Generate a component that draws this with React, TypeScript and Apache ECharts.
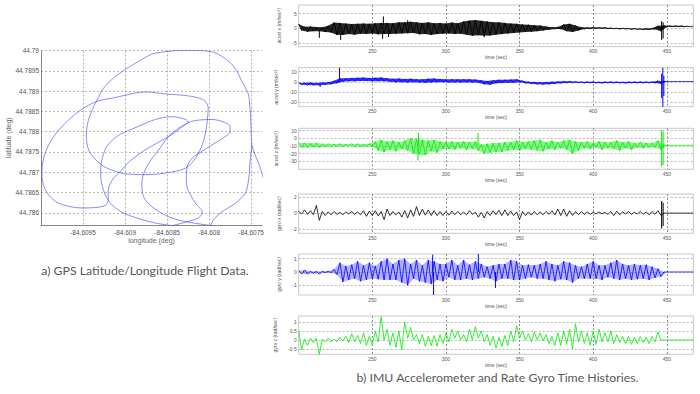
import React, { useEffect, useRef } from 'react';
import * as echarts from 'echarts';

// ---------- GPS track (lon, lat) ----------
const gpsLonTicks = [-84.6095, -84.609, -84.6085, -84.608, -84.6075];
const gpsLatTicks = [44.786, 44.7865, 44.787, 44.7875, 44.788, 44.7885, 44.789, 44.7895, 44.79];

const gpsSegA: number[][] = [
  [-84.60734, 44.78676], [-84.60737, 44.78697], [-84.60741, 44.78722], [-84.60746, 44.78747],
  [-84.60749, 44.78767], [-84.6075, 44.78809], [-84.60751, 44.7885], [-84.60753, 44.78891],
  [-84.60757, 44.78909], [-84.60762, 44.78928], [-84.60765, 44.78942], [-84.60772, 44.78964],
  [-84.60781, 44.7898], [-84.6079, 44.78992], [-84.608, 44.78998], [-84.60816, 44.79],
  [-84.60836, 44.79], [-84.60852, 44.78997], [-84.60868, 44.78991], [-84.60884, 44.78973],
  [-84.609, 44.78953], [-84.60916, 44.78928], [-84.60927, 44.78903], [-84.60933, 44.78879],
  [-84.60939, 44.78854], [-84.60944, 44.78825], [-84.60946, 44.78792], [-84.60944, 44.78759],
  [-84.60937, 44.78735], [-84.60925, 44.78714], [-84.60908, 44.787], [-84.60899, 44.78696],
  [-84.60875, 44.78694], [-84.60852, 44.78698], [-84.60828, 44.7871], [-84.60816, 44.78735],
  [-84.60808, 44.78768], [-84.60804, 44.788], [-84.60802, 44.78829], [-84.60801, 44.78858],
  [-84.60805, 44.78876], [-84.60814, 44.78884], [-84.60828, 44.78889], [-84.60852, 44.78893],
  [-84.60875, 44.78898], [-84.60888, 44.78895], [-84.60912, 44.78884], [-84.60933, 44.78875],
  [-84.60951, 44.78856], [-84.60967, 44.78829], [-84.60981, 44.78799], [-84.60991, 44.78767],
  [-84.60997, 44.78734], [-84.60999, 44.78697], [-84.60997, 44.78668], [-84.60991, 44.78644],
  [-84.60981, 44.78626], [-84.60967, 44.78616], [-84.60951, 44.78612], [-84.60935, 44.78613],
  [-84.60923, 44.78619], [-84.6092, 44.78631], [-84.6092, 44.78652], [-84.60918, 44.7867],
  [-84.60913, 44.78687], [-84.60906, 44.78701], [-84.60897, 44.78722], [-84.60882, 44.78747],
  [-84.60862, 44.78772], [-84.60842, 44.78796], [-84.60824, 44.78823], [-84.6081, 44.78829],
  [-84.60796, 44.7883], [-84.60783, 44.78824], [-84.60775, 44.78813], [-84.60775, 44.788],
  [-84.60782, 44.78786], [-84.60793, 44.78772], [-84.60808, 44.78752], [-84.6082, 44.78735],
  [-84.60826, 44.78714], [-84.60827, 44.78681], [-84.60826, 44.78661], [-84.60822, 44.78644],
  [-84.60816, 44.78623], [-84.60812, 44.78614], [-84.60808, 44.78602], [-84.6081, 44.78592],
  [-84.60814, 44.78586], [-84.60826, 44.78578], [-84.60846, 44.78567], [-84.6087, 44.78552],
];
const gpsSegB: number[][] = [
  [-84.60824, 44.78823], [-84.60828, 44.7883], [-84.60844, 44.78837], [-84.60864, 44.7883],
  [-84.60883, 44.78814], [-84.60899, 44.788], [-84.60908, 44.78791], [-84.60917, 44.78775],
  [-84.60923, 44.78759], [-84.60928, 44.78726], [-84.60929, 44.78693], [-84.60925, 44.78652],
  [-84.60917, 44.78623], [-84.60904, 44.78602], [-84.60884, 44.78586], [-84.60862, 44.78574],
  [-84.60836, 44.78566], [-84.6081, 44.78557],
];
const gpsSegC: number[][] = [
  [-84.60824, 44.78823], [-84.60836, 44.78809], [-84.60848, 44.78789], [-84.6086, 44.78755],
  [-84.6087, 44.78728], [-84.60877, 44.78701], [-84.6088, 44.78673], [-84.60878, 44.7864],
  [-84.60868, 44.78615], [-84.60852, 44.78594], [-84.60836, 44.78582], [-84.60816, 44.78574],
  [-84.60796, 44.78568], [-84.60781, 44.7856],
];
const gpsSegD: number[][] = [
  [-84.60749, 44.78767], [-84.60751, 44.7873], [-84.60753, 44.78681], [-84.60757, 44.78648],
  [-84.60769, 44.78623], [-84.60785, 44.78602], [-84.60795, 44.78582], [-84.60798, 44.7857],
  [-84.60803, 44.78557],
];

// ---------- IMU time histories: per-bin upper / lower envelope (4 s bins from t = 200 s) ----------
const binStart = 200;
const binWidth = 4;
const timeTicks = [250, 300, 350, 400, 450];

const accelXHi = [1.4, 0.5, 0.6, 0.4, 0.3, 0.8, 1.9, 1.8, 1.6, 1.4, 1.5, 1.6, 1.5, 1.7, 1.8, 1.8, 1.7, 2.0, 2.0, 2.2, 2.0, 1.8, 2.0, 1.7, 1.8, 1.6, 1.9, 1.7, 2.3, 2.6, 2.8, 2.5, 2.3, 2.0, 2.0, 1.8, 1.6, 1.5, 1.3, 1.2, 1.0, 0.9, 0.6, 0.3, 0.4, 1.3, 1.5, 0.9, 0.3, 0.2, 0.3, 0.2, 0.2, 0.1, 0.0, 0.0, -0.1, -0.1, -0.2, -0.1, 0.0, 0.8, 0.9, 0.8, 0.8, 0.8, 0.7];
const accelXLo = [-0.8, -1.2, -1.0, -1.0, -1.3, -1.5, -2.3, -2.3, -2.0, -2.2, -1.9, -2.0, -1.8, -2.1, -2.0, -2.0, -1.9, -1.8, -1.7, -1.6, -2.1, -2.0, -2.3, -2.0, -1.9, -1.8, -2.0, -1.9, -2.2, -2.6, -2.4, -2.6, -2.5, -2.2, -2.0, -1.8, -1.6, -1.5, -1.3, -1.2, -1.0, -0.8, -0.5, -0.3, -0.3, -1.0, -1.3, -0.8, -0.3, -0.2, -0.1, -0.1, -0.2, -0.2, -0.3, -0.3, -0.4, -0.4, -0.5, -0.5, -0.4, -1.0, 0.4, 0.5, 0.5, 0.5, 0.5];
const accelXSpikes = [[214, -0.5, -3.3], [228.5, -1.0, -4.0], [257.5, 1.0, 4.0], [257, -1.0, -3.6], [261, -1.0, -3.0], [274, 1.0, 2.7], [326, -1.0, -3.1], [446.5, 2.4, -4.0], [447.5, 2.0, -3.5]];

const accelYHi = [-1.0, -1.0, -0.8, -1.2, -0.8, -0.5, 1.0, 3.5, 3.5, 3.8, 4.0, 4.2, 3.8, 4.0, 4.2, 3.5, 3.0, 3.2, 2.8, 3.0, 2.6, 2.5, 3.0, 3.2, 2.8, 2.5, 2.6, 2.4, 2.5, 2.6, 2.2, 1.5, 0.8, 1.5, 2.0, 2.0, 2.2, 2.5, 1.0, 0.0, -0.3, -0.5, -0.3, 0.0, 0.3, 0.5, 0.5, 0.2, 0.0, 0.1, 0.0, -0.1, 0.0, 0.1, 0.0, -0.1, 0.0, 0.0, 0.1, 0.0, 0.0, 1.0, 0.5, 0.3, 0.3, 0.3, 0.3];
const accelYLo = [-3.0, -3.3, -3.5, -3.5, -3.0, -2.5, -1.5, 0.0, 0.5, 0.5, 0.8, 0.8, 0.5, 0.6, 0.5, 0.0, -0.5, -0.5, -0.8, -0.5, -0.8, -1.0, -0.6, -0.5, -0.4, -0.8, -0.8, -0.8, -0.6, -0.8, -1.0, -2.5, -3.0, -1.5, -1.2, -1.0, -1.0, -0.5, -1.5, -2.0, -2.5, -2.8, -2.5, -2.0, -1.5, -1.2, -1.0, -1.0, -1.3, -1.2, -1.3, -1.4, -1.2, -1.3, -1.3, -1.4, -1.2, -1.3, -1.3, -1.2, -1.3, -2.0, 0.0, 0.3, 0.3, 0.3, 0.3];
const accelYSpikes = [[214.6, -3.0, -5.0], [227.7, 0.0, 14.5], [446.5, 8.0, -16.0], [447.3, 14.5, -25.0], [448, 6.0, -14.0]];

const accelZHi = [-6, -6, -6.5, -6, -7, -7, -7.5, -7, -7.5, -7, -7, -7.5, -7, -4, -2, -4, -3, -5, -3, 0, -1, -2, -3, -2, -4, -5, -4, -5, -4, -5, -4, -8, -7, -6, -6, -5, -5, -3, -5, -4, -3, -2, -5, -3, -5, -3, -2, -4, -5, -4, -6, -4, -5, -5, -3, -5, -4, -6, -5, -6, -6, -3, -8.5, -9, -9, -9, -9];
const accelZLo = [-12, -12, -11.5, -12, -11, -11, -10.5, -11, -10.5, -11, -11, -10.5, -11, -16, -18, -15, -17, -14, -16, -20, -21, -22, -17, -19, -14, -14, -15, -13, -15, -14, -16, -20, -19, -18, -18, -16, -15, -16, -14, -15, -16, -17, -14, -15, -13, -15, -20, -16, -13, -14, -12, -15, -13, -14, -16, -13, -15, -12, -13, -12, -12, -15, -9.5, -9.2, -9.2, -9.2, -9.2];
const accelZSpikes = [[281.4, -9, 7], [281, -9, -29], [321.8, -9, 7], [446.5, 11, -37], [447.5, 9, -35]];

const gyroXHi = [0.2, 0.4, 0.3, 0.95, 0.2, 0.15, 0.2, 0.1, 0.15, 0.2, 0.15, 0.3, 0.25, 0.3, 0.2, 0.5, 0.2, 0.15, 0.3, 0.4, 0.8, 0.5, 0.4, 0.3, 0.2, 0.2, 0.25, 0.2, 0.15, 0.3, 0.1, 0.1, 0.2, 0.3, 0.35, 0.4, 0.25, 0.15, 0.2, 0.15, 0.2, 0.15, 0.2, 0.3, 0.5, 0.5, 0.3, 0.2, 0.2, 0.15, 0.1, 0.15, 0.1, 0.2, 0.25, 0.15, 0.2, 0.1, 0.2, 0.15, 0.2, 0.3, 0, 0, 0, 0, 0];
const gyroXLo = [-0.1, -0.15, -0.2, -0.9, -0.3, -0.2, -0.15, -0.2, -0.1, -0.15, -0.2, -0.4, -0.3, -0.35, -0.8, -0.3, -0.2, -0.5, -0.6, -0.4, -0.3, -0.25, -0.3, -0.3, -0.3, -0.25, -0.2, -0.2, -0.2, -0.15, -0.5, -0.6, -0.3, -0.2, -0.3, -0.3, -0.3, -0.8, -0.3, -0.25, -0.2, -0.2, -0.15, -0.2, -0.3, -0.4, -0.3, -0.2, -0.15, -0.15, -0.1, -0.1, -0.15, -0.3, -0.2, -0.1, -0.15, -0.1, -0.15, -0.2, -0.15, -0.3, 0, 0, 0, 0, 0];
const gyroXSpikes = [[446.5, 1.5, -1.9], [447.5, 1.3, -1.6]];

const gyroYHi = [0.1, 0.15, 0.05, 0.05, 0.05, 0.05, 0.2, 0.7, 0.45, 0.55, 0.8, 0.5, 0.7, 0.45, 0.8, 1.0, 0.6, 0.9, 1.0, 0.6, 0.9, 0.5, 0.9, 0.8, 0.6, 0.6, 0.9, 0.5, 0.9, 0.55, 0.8, 0.6, 0.4, 0.5, 0.6, 0.6, 0.9, 0.8, 0.5, 0.55, 0.5, 0.6, 0.8, 0.6, 0.5, 0.8, 0.7, 0.5, 0.4, 0.6, 0.8, 0.5, 0.5, 0.7, 0.9, 0.6, 0.5, 0.6, 0.5, 0.55, 0.4, 0.25, 0, 0, 0, 0, 0];
const gyroYLo = [-0.15, -0.15, -0.1, -0.15, -0.05, -0.05, -0.2, -0.75, -0.6, -0.5, -0.7, -0.6, -0.5, -0.55, -0.6, -0.6, -0.6, -0.8, -1.0, -0.5, -0.7, -0.8, -0.9, -0.6, -0.7, -0.4, -0.6, -0.6, -0.5, -0.6, -0.5, -0.4, -0.5, -0.7, -0.5, -0.5, -0.6, -0.6, -0.5, -0.4, -0.5, -0.5, -0.6, -0.7, -0.55, -0.6, -0.8, -0.5, -0.5, -0.5, -0.5, -0.6, -0.4, -0.5, -0.6, -0.5, -0.6, -0.55, -0.5, -0.6, -0.45, -0.35, 0, 0, 0, 0, 0];
const gyroYSpikes = [[291.6, 0, -1.75], [291, 0, 1.3], [322, 0, 1.35], [333.6, 0, -1.2]];

const gyroZHi = [0.5, 0.05, 0.1, 0.1, 0.05, 0.1, 0.05, 0.15, 0.2, 0.35, 0.25, 0.4, 0.2, 0.5, 1.3, 0.6, 0.4, 0.5, 1.0, 0.7, 0.3, 0.3, 0.2, 0.25, 0.3, 0.4, 0.6, 0.5, 0.3, 0.6, 0.75, 0.5, 0.3, 0.2, 0.15, 0.25, 0.5, 0.8, 0.5, 0.35, 0.45, 0.4, 0.3, 0.2, 0.4, 0.5, 0.6, 0.9, 0.5, 0.4, 0.5, 0.6, 0.4, 0.5, 0.3, 0.2, 0.2, 0.15, 0.2, 0.15, 0.2, 0.45, 0, 0, 0, 0, 0];
const gyroZLo = [-0.55, -0.3, -0.15, -0.8, -0.1, -0.1, -0.1, -0.05, -0.15, -0.1, -0.2, -0.3, -0.3, -0.1, 0.0, -0.3, -0.4, -0.55, 0.1, 0.0, -0.2, -0.35, -0.3, -0.35, -0.2, -0.1, 0.1, 0.0, -0.1, 0.0, 0.1, -0.1, -0.3, -0.45, -0.35, -0.3, -0.1, 0.1, 0.0, -0.1, 0.0, -0.05, -0.2, -0.3, -0.3, -0.2, -0.5, -0.1, -0.2, -0.3, -0.25, -0.1, -0.1, -0.2, -0.15, -0.2, -0.25, -0.2, -0.15, -0.2, -0.1, 0.0, 0, 0, 0, 0, 0];
const gyroZSpikes: number[][] = [];

const panelNames = ['accel x (m/sec²)', 'accel y (m/sec²)', 'accel z (m/sec²)', 'gyro x (rad/sec)', 'gyro y (rad/sec)', 'gyro z (rad/sec)'];
const panelHi = [accelXHi, accelYHi, accelZHi, gyroXHi, gyroYHi, gyroZHi];
const panelLo = [accelXLo, accelYLo, accelZLo, gyroXLo, gyroYLo, gyroZLo];
const panelSpikes = [accelXSpikes, accelYSpikes, accelZSpikes, gyroXSpikes, gyroYSpikes, gyroZSpikes];
const panelMin = [-6.3, -24.6, -40.5, -2.5, -1.73, -0.8];
const panelMax = [7.9, 13.9, 13.1, 2.37, 1.35, 1.34];
const panelTicks = [[-5, 0, 5], [-20, -10, 0, 10], [-30, -20, -10, 0, 10], [-2, 0, 2], [-1, 0, 1], [-0.5, 0, 0.5, 1]];

// ---------- styling / layout ----------
const panelColors = ['#000000', '#0000ff', '#00ee00', '#000000', '#0000ff', '#00ee00'];
const panelBandOpacity = [0.85, 0.8, 0.45, 0, 0.3, 0];
const panelTops = [5, 67.7, 128.3, 194, 254, 316];
const panelHeights = [41.7, 39, 41, 39.3, 41, 38.3];
const panelLeft = 298.7;
const panelWidth = 394.6;
const FONT = 'Liberation Sans, Arial, sans-serif';

function fmt(v: number) {
  return String(parseFloat(v.toFixed(5)));
}

function envelopeLine(hi: number[], lo: number[]) {
  const pts: number[][] = [];
  for (let i = 0; i < hi.length; i++) {
    const t = binStart + i * binWidth;
    pts.push([t, hi[i]]);
    pts.push([t + binWidth / 2, lo[i]]);
  }
  pts.push([binStart + hi.length * binWidth, hi[hi.length - 1]]);
  return pts;
}

function bandSeries(gi: number, hi: number[], lo: number[], color: string, opacity: number) {
  const data = hi.map((h, i) => [binStart + i * binWidth, h, lo[i]]);
  return {
    type: 'custom', xAxisIndex: gi, yAxisIndex: gi, clip: true, silent: true, data,
    encode: { x: 0, y: [1, 2] },
    renderItem: (params: any, api: any) => {
      if (params.dataIndex !== 0) return null;
      const n = data.length;
      const pts: number[][] = [];
      for (let j = 0; j < n; j++) pts.push(api.coord([api.value(0, j), api.value(1, j)]));
      for (let j = n - 1; j >= 0; j--) pts.push(api.coord([api.value(0, j) + binWidth / 2, api.value(2, j)]));
      return { type: 'polygon', shape: { points: pts }, style: { fill: color, opacity } };
    },
  };
}

function spikeSeries(gi: number, spikes: number[][], color: string) {
  return {
    type: 'custom', xAxisIndex: gi, yAxisIndex: gi, clip: true, silent: true, data: spikes,
    encode: { x: 0, y: [1, 2] },
    renderItem: (params: any, api: any) => {
      const a = api.coord([api.value(0), api.value(1)]);
      const b = api.coord([api.value(0), api.value(2)]);
      return { type: 'line', shape: { x1: a[0], y1: a[1], x2: b[0], y2: b[1] }, style: { stroke: color, lineWidth: 1 } };
    },
  };
}

function buildOption() {
  const grid: any[] = [{ left: 41, top: 50.5, width: 221, height: 174.5 }];
  const xAxis: any[] = [{
    type: 'value', gridIndex: 0, min: -84.61, max: -84.60737,
    name: 'longitude (deg)', nameLocation: 'middle', nameGap: 12,
    nameTextStyle: { fontSize: 7, color: '#666', fontFamily: FONT },
    axisLine: { show: true, onZero: false, lineStyle: { color: '#888', width: 1 } },
    axisTick: { show: false, customValues: gpsLonTicks },
    axisLabel: { customValues: gpsLonTicks, fontSize: 6.5, color: '#555', margin: 4, fontFamily: FONT, formatter: fmt },
    splitLine: { show: true, lineStyle: { color: '#999', type: [2, 2], width: 0.8 } },
  }];
  const yAxis: any[] = [{
    type: 'value', gridIndex: 0, min: 44.7857, max: 44.79,
    name: 'latitude (deg)', nameLocation: 'middle', nameGap: 29.5, nameRotate: 90,
    nameTextStyle: { fontSize: 7, color: '#666', fontFamily: FONT },
    axisLine: { show: true, onZero: false, lineStyle: { color: '#888', width: 1 } },
    axisTick: { show: false, customValues: gpsLatTicks },
    axisLabel: { customValues: gpsLatTicks, fontSize: 6.5, color: '#555', margin: 2, fontFamily: FONT, formatter: fmt },
    splitLine: { show: true, lineStyle: { color: '#aaa', type: [2, 2], width: 0.8 } },
  }];
  const gpsStyle = { color: 'rgba(70,70,255,0.7)', width: 0.9 };
  const series: any[] = [gpsSegA, gpsSegB, gpsSegC, gpsSegD].map((seg) => ({
    type: 'line', xAxisIndex: 0, yAxisIndex: 0, data: seg, showSymbol: false, symbol: 'none',
    clip: true, lineStyle: gpsStyle, smooth: 0.3, silent: true,
  }));

  for (let p = 0; p < 6; p++) {
    const gi = p + 1;
    grid.push({ left: panelLeft, top: panelTops[p], width: panelWidth, height: panelHeights[p], show: true, borderColor: '#c8c8c8', borderWidth: 1, backgroundColor: 'transparent' });
    xAxis.push({
      type: 'value', gridIndex: gi, min: 200, max: 468,
      name: 'time (sec)', nameLocation: 'middle', nameGap: 8,
      nameTextStyle: { fontSize: 5, color: '#555', fontFamily: FONT },
      axisLine: { show: false },
      axisTick: { show: false, customValues: timeTicks },
      axisLabel: { customValues: timeTicks, fontSize: 5, color: '#555', margin: 2, fontFamily: FONT },
      splitLine: { show: true, lineStyle: { color: '#777', type: [2, 2], width: 0.8 } },
    });
    yAxis.push({
      type: 'value', gridIndex: gi, min: panelMin[p], max: panelMax[p],
      name: panelNames[p], nameLocation: 'middle', nameGap: 9, nameRotate: 90,
      nameTextStyle: { fontSize: 5, color: '#555', fontFamily: FONT },
      axisLine: { show: false },
      axisTick: { show: false, customValues: panelTicks[p] },
      axisLabel: { customValues: panelTicks[p], fontSize: 5, color: '#555', margin: 2, fontFamily: FONT, formatter: fmt },
      splitLine: { show: true, lineStyle: { color: '#aaa', type: [2, 2], width: 0.8 } },
    });
    if (panelBandOpacity[p] > 0) {
      series.push(bandSeries(gi, panelHi[p], panelLo[p], panelColors[p], panelBandOpacity[p]));
    }
    series.push({
      type: 'line', xAxisIndex: gi, yAxisIndex: gi, data: envelopeLine(panelHi[p], panelLo[p]),
      showSymbol: false, symbol: 'none', clip: true, silent: true,
      lineStyle: { color: panelColors[p], width: 0.8 },
    });
    if (panelSpikes[p].length) {
      series.push(spikeSeries(gi, panelSpikes[p], panelColors[p]));
    }
  }

  return {
    animation: false,
    backgroundColor: '#ffffff',
    grid, xAxis, yAxis, series,
    graphic: [
      {
        type: 'text', x: 145, y: 270,
        style: { text: 'a) GPS Latitude/Longitude Flight Data.', fill: '#595959', font: '12.3px Lato, sans-serif',
          textAlign: 'center', textVerticalAlign: 'middle', align: 'center', verticalAlign: 'middle' },
      },
      {
        type: 'text', x: 497.5, y: 377,
        style: { text: 'b) IMU Accelerometer and Rate Gyro Time Histories.', fill: '#595959', font: '12.3px Lato, sans-serif',
          textAlign: 'center', textVerticalAlign: 'middle', align: 'center', verticalAlign: 'middle' },
      },
    ],
  };
}

export default function App() {
  const ref = useRef<HTMLDivElement>(null);
  useEffect(() => {
    if (!ref.current) return;
    const chart = echarts.init(ref.current, undefined, { renderer: 'svg' });
    chart.setOption(buildOption() as any);
    return () => chart.dispose();
  }, []);
  return <div ref={ref} style={{ position: 'absolute', left: 0, top: 0, width: 700, height: 394, background: '#fff' }} />;
}
